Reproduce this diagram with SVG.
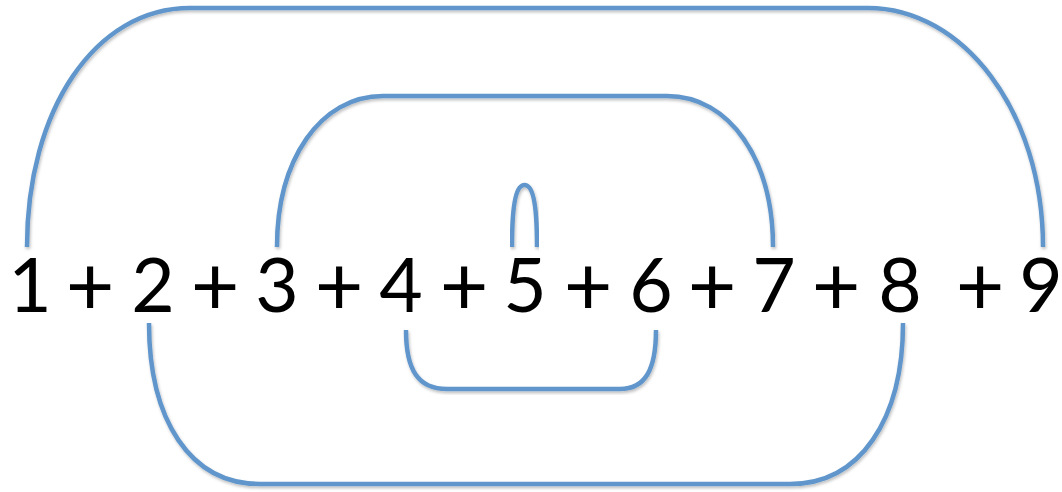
<svg xmlns="http://www.w3.org/2000/svg" width="1062" height="492" viewBox="0 0 1062 492">
  <defs>
    <filter id="sh" x="-5%" y="-5%" width="110%" height="115%">
      <feDropShadow dx="1" dy="2" stdDeviation="1.5" flood-color="#000" flood-opacity="0.25"/>
    </filter>
  </defs>
  <style>
    .arc { fill: none; stroke: #6096CB; stroke-width: 4.5; stroke-linecap: butt; filter: url(#sh); }
    .num { font-family: Lato, "DejaVu Sans", sans-serif; font-size: 75px; fill: #000; text-anchor: middle; }
    .op { font-family: Lato, "DejaVu Sans", sans-serif; font-size: 84px; fill: #000; text-anchor: middle; }
  </style>
  <rect width="1062" height="492" fill="#fff"/>
  <g id="connectors">
    <path class="arc" d="M27,247 C27,110 95,8 190,8 L868,8 C962,8 1043,110 1043,247"/>
    <path class="arc" d="M277,247 C277,160 320,96 383,96 L667,96 C730,96 773,160 773,247"/>
    <path class="arc" d="M512,247 C512,200 517,185 524.5,185 C532,185 537,200 537,247"/>
    <path class="arc" d="M149,323 C149,420 190,484 260,484 L790,484 C860,484 903,420 903,323"/>
    <path class="arc" d="M406,330 C406,370 418,389 447,389 L620,389 C645,389 656,370 656,330"/>
  </g>
  <g id="n1"><text class="num" x="30" y="312">1</text></g>
  <g id="n2"><text class="num" x="153" y="312">2</text></g>
  <g id="n3"><text class="num" x="277" y="312">3</text></g>
  <g id="n4"><text class="num" x="401" y="312">4</text></g>
  <g id="n5"><text class="num" x="525" y="312">5</text></g>
  <g id="n6"><text class="num" x="651" y="312">6</text></g>
  <g id="n7"><text class="num" x="774" y="312">7</text></g>
  <g id="n8"><text class="num" x="900" y="312">8</text></g>
  <g id="n9"><text class="num" x="1041" y="312">9</text></g>
  <g id="ops">
    <text class="op" x="90" y="315">+</text>
    <text class="op" x="215" y="315">+</text>
    <text class="op" x="339" y="315">+</text>
    <text class="op" x="464" y="315">+</text>
    <text class="op" x="588" y="315">+</text>
    <text class="op" x="712" y="315">+</text>
    <text class="op" x="836" y="315">+</text>
    <text class="op" x="980" y="315">+</text>
  </g>
</svg>
